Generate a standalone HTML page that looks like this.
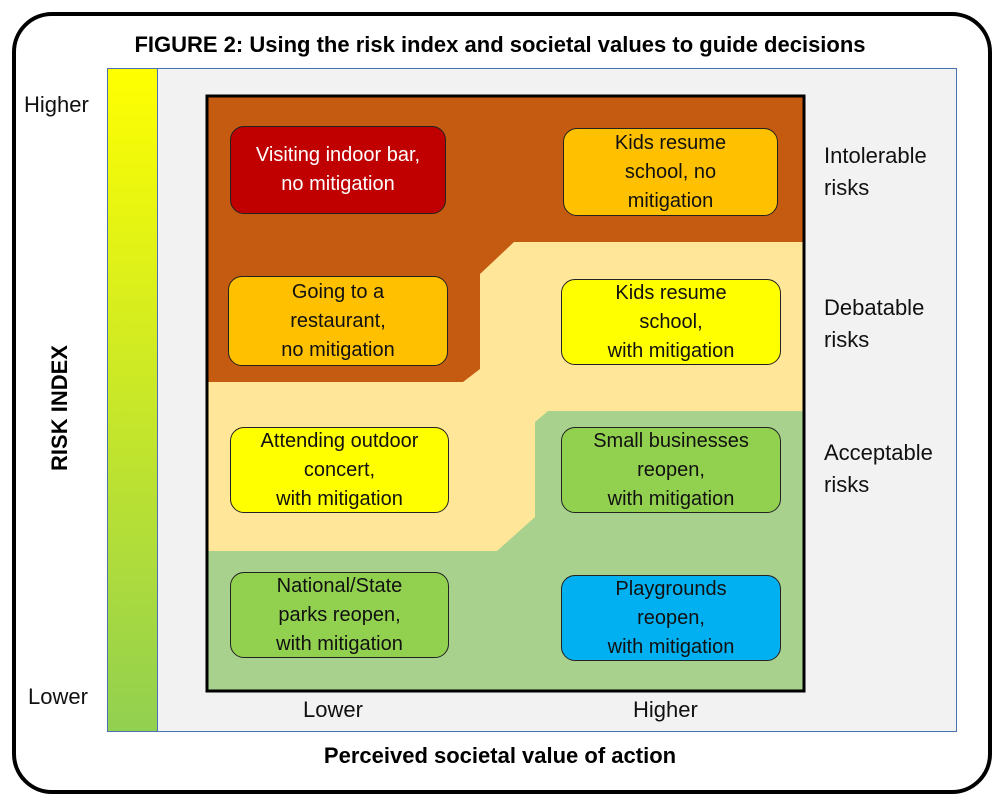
<!DOCTYPE html>
<html><head><style>
body{margin:0;width:1000px;height:802px;background:#fff;position:relative;font-family:"Liberation Sans",sans-serif;overflow:hidden}
.a{position:absolute}
.box{position:absolute;border:1.5px solid #222;border-radius:14px;display:flex;align-items:center;justify-content:center;text-align:center;font-size:20px;line-height:29px;color:#111;box-sizing:border-box}
.t{position:absolute;font-size:22px;color:#111;line-height:32px}
</style></head><body>
<div class="a" style="left:12px;top:12px;width:972px;height:774px;border:4px solid #000;border-radius:40px;box-sizing:content-box"></div>
<div class="a" style="left:0;top:32px;width:1000px;text-align:center;font-weight:bold;font-size:22px">FIGURE 2: Using the risk index and societal values to guide decisions</div>
<div class="a" style="left:107px;top:68px;width:850px;height:664px;background:#f2f2f2;border:1px solid #4a6fb5;box-sizing:border-box"></div>
<div class="a" style="left:107px;top:68px;width:51px;height:664px;background:linear-gradient(#ffff00,#92d050);border:1px solid #4a6fb5;box-sizing:border-box"></div>
<svg class="a" style="left:0;top:0" width="1000" height="802">
<rect x="207" y="96" width="597" height="595" fill="#ffe699"/>
<polygon points="207,96 804,96 804,242 514,242 480,274 480,369 463,382 207,382" fill="#c55a11"/>
<polygon points="804,411 548,411 535,422 535,517 497,551 207,551 207,691 804,691" fill="#a9d18e"/>
<rect x="207" y="96" width="597" height="595" fill="none" stroke="#000" stroke-width="3"/>
</svg>
<div class="box" style="left:230px;top:126px;width:216px;height:88px;background:#c00000;color:#fff">Visiting indoor bar,<br>no mitigation</div>
<div class="box" style="left:563px;top:128px;width:215px;height:88px;background:#ffc000">Kids resume<br>school, no<br>mitigation</div>
<div class="box" style="left:228px;top:276px;width:220px;height:90px;background:#ffc000">Going to a<br>restaurant,<br>no mitigation</div>
<div class="box" style="left:561px;top:279px;width:220px;height:86px;background:#ffff00">Kids resume<br>school,<br>with mitigation</div>
<div class="box" style="left:230px;top:427px;width:219px;height:86px;background:#ffff00">Attending outdoor<br>concert,<br>with mitigation</div>
<div class="box" style="left:561px;top:427px;width:220px;height:86px;background:#92d050">Small businesses<br>reopen,<br>with mitigation</div>
<div class="box" style="left:230px;top:572px;width:219px;height:86px;background:#92d050">National/State<br>parks reopen,<br>with mitigation</div>
<div class="box" style="left:561px;top:575px;width:220px;height:86px;background:#00b0f0">Playgrounds<br>reopen,<br>with mitigation</div>
<div class="t" style="left:824px;top:140px">Intolerable<br>risks</div>
<div class="t" style="left:824px;top:292px">Debatable<br>risks</div>
<div class="t" style="left:824px;top:437px">Acceptable<br>risks</div>
<div class="t" style="left:24px;top:89px">Higher</div>
<div class="t" style="left:28px;top:681px">Lower</div>
<div class="t" style="left:303px;top:694px">Lower</div>
<div class="t" style="left:633px;top:694px">Higher</div>
<div class="a" style="left:0;top:743px;width:1000px;text-align:center;font-weight:bold;font-size:22px">Perceived societal value of action</div>
<div class="a" style="left:-10px;top:395px;width:140px;text-align:center;font-weight:bold;font-size:22px;transform:rotate(-90deg)">RISK INDEX</div>
</body></html>
